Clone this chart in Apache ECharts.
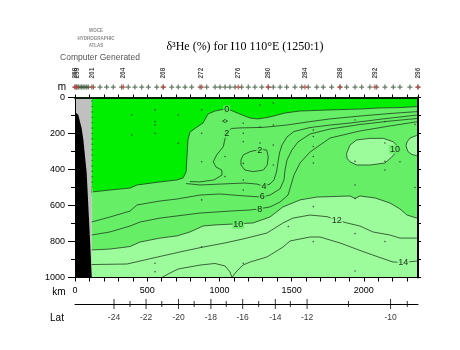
<!DOCTYPE html>
<html><head><meta charset="utf-8">
<script src="https://cdn.jsdelivr.net/npm/echarts/dist/echarts.min.js"></script>
<style>html,body{margin:0;padding:0;background:#fff}#c{width:460px;height:350px}</style>
</head><body><div id="c"></div>
<script>
// ---------- data ----------
const KM_MAX = 2375;
const DEPTH_MAX = 1000;
const dataStartKm = 114;
const xLabelKm = [0, 500, 1000, 1500, 2000];

const bathymetry = [[0,79],[23,97],[46,171],[58,236],[81,419],[104,792],[116,1000],[0,1000]];

const contour0 = [[114,525],[242,514],[381,503],[429,486],[588,469],[706,458],[748,447],[769,414],[775,331],[782,236],[796,192],[845,164],[886,142],[921,92],[969,75],[1018,67],[1073,69],[1142,92],[1212,114],[1267,119],[1350,108],[1454,86],[1558,75],[1766,69],[1973,64],[2112,58],[2250,56],[2375,50]];
const contour2 = [[2375,78],[2181,89],[1973,103],[1766,119],[1627,134],[1466,153],[1302,166],[1142,169],[1085,172],[1059,186],[1039,227],[1027,273],[981,319],[957,357],[976,386],[1016,403],[1018,431],[962,458],[865,469],[796,467]];
const contour2Loop = [[1165,319],[1212,301],[1281,288],[1327,292],[1338,329],[1331,375],[1304,403],[1235,412],[1177,403],[1149,375],[1149,347],[1165,319]];
const contour0Loop = [[1021,131],[1039,122],[1056,131],[1039,139],[1021,131]];
const contour4 = [[769,478],[865,486],[1004,481],[1177,475],[1260,481],[1302,492],[1350,481],[1378,458],[1395,414],[1406,358],[1416,308],[1433,264],[1468,219],[1516,189],[1627,167],[1766,153],[1904,142],[2133,119],[2375,97]];
const contour6 = [[114,692],[242,664],[381,631],[429,597],[588,575],[706,564],[865,542],[1004,536],[1177,547],[1295,553],[1350,542],[1419,508],[1447,458],[1454,403],[1468,347],[1502,292],[1544,247],[1627,203],[1766,175],[1973,150],[2181,131],[2375,116]];
const contour8 = [[114,764],[242,747],[381,714],[450,692],[588,670],[706,658],[865,642],[1073,631],[1212,625],[1274,619],[1350,608],[1419,581],[1475,542],[1496,486],[1516,431],[1558,364],[1627,303],[1766,225],[1973,186],[2181,158],[2375,134]];
const contour10 = [[114,847],[242,842],[381,828],[450,803],[588,781],[706,769],[796,747],[886,714],[969,708],[1094,703],[1232,697],[1350,664],[1440,608],[1558,569],[1675,553],[1904,547],[1939,561],[1973,547],[2077,558],[2181,586],[2250,619],[2299,653],[2375,672]];
const contour10Loop = [[1881,310],[1904,264],[1950,236],[2042,227],[2135,227],[2204,246],[2239,275],[2223,303],[2193,331],[2146,364],[2042,375],[1950,375],[1904,357],[1883,336],[1881,310]];
const contour10Edge = [[2375,208],[2366,211],[2320,225],[2299,247],[2292,269],[2306,301],[2334,317],[2375,325]];
const contour12 = [[114,928],[360,925],[540,892],[727,858],[886,831],[1039,808],[1163,786],[1329,753],[1440,697],[1509,670],[1627,653],[1745,662],[1814,681],[1883,697],[1973,714],[2063,747],[2181,764],[2250,781],[2375,781]];
const contour14 = [[602,1000],[644,981],[713,953],[865,931],[969,922],[1039,936],[1073,969],[1087,1000],[1115,969],[1163,931],[1212,914],[1329,886],[1440,831],[1489,797],[1627,775],[1696,775],[1835,808],[1904,829],[2022,864],[2202,914],[2271,916],[2375,908]];

const contourLabels = [
  {km:1050, depth:69, text:'0'}, {km:100, depth:525, text:'0'},
  {km:1050, depth:199, text:'2'}, {km:1279, depth:292, text:'2'},
  {km:1308, depth:492, text:'4'}, {km:1297, depth:551, text:'6'},
  {km:1280, depth:621, text:'8'}, {km:1131, depth:705, text:'10'},
  {km:2216, depth:288, text:'10'}, {km:1812, depth:681, text:'12'},
  {km:2273, depth:916, text:'14'}
];

const sampleDots = [
  [116,20],[116,50],[116,80],[116,110],[116,140],[116,170],[116,200],[116,230],[116,260],[116,290],[116,320],[116,350],[116,380],[116,410],[116,440],[116,470],[116,500],
  [393,97],[393,208],
  [554,69],[554,134],[554,153],[554,199],[554,921],[554,968],
  [715,97],[715,254],
  [877,69],[877,199],[877,357],[877,569],[877,829],
  [1039,86],[1039,197],[1039,328],[1039,439],
  [1165,143],[1165,199],[1165,246],[1165,366],[1165,458],[1165,514],[1165,921],
  [1281,42],[1281,164],[1281,253],
  [1373,31],[1373,153],[1373,264],[1373,375],
  [1477,717],
  [1650,181],[1650,217],[1650,272],[1650,328],[1650,364],[1650,606],[1650,800],
  [1939,125],[1939,355],[1939,486],[1939,561],[1939,756],[1939,964],
  [2146,133],[2146,253],[2146,355],[2146,403],[2146,800],
  [2250,292],[2250,357],
  [2354,150],[2354,500]
];

const stationKm = [0,12,23,35,46,57,69,81,92,127,173,219,265,323,369,415,462,508,566,611,670,715,762,808,866,912,970,1004,1039,1073,1108,1154,1200,1246,1293,1338,1373,1420,1466,1523,1570,1615,1674,1719,1777,1835,1881,1939,1985,2042,2089,2146,2204,2250,2319,2375];
const stationNumKm = [0,12,116,334,611,877,1131,1338,1592,1835,2077,2375];
const stationNums = ['258','259','261','264','268','272','276','280','284','288','292','296'];

const latTickKm = [270,492,717,941,1161,1387,1607,2185];
const latLabels = ['-24','-22','-20','-18','-16','-14','-12','-10'];
const latMinorKm = [381,601,825,1047,1272,1491,1894,2301];

// ---------- styles ----------
const BRIGHT = '#00ee00', MEDIUM = '#66ee66', LIGHT = '#9cfc9c', GRAY = '#c0c0c0';
const LINE = '#1f3f1f';
const FONT = 'Liberation Sans';
const PLUS = 'path://M1.5,0h1v1.5h1.5v1h-1.5v1.5h-1v-1.5h-1.5v-1h1.5z';

function area(points, color, z) {
  return {type:'custom', xAxisIndex:0, yAxisIndex:0, z:z, silent:true, clip:true, data:[[0,0]],
    renderItem: function(params, api){
      return {type:'polygon', shape:{points: points.map(function(p){return api.coord(p);})}, style:{fill:color}};
    }};
}
function cline(points) {
  return {type:'custom', xAxisIndex:0, yAxisIndex:0, z:3, silent:true, clip:true, data:[[0,0]],
    renderItem: function(params, api){
      return {type:'polyline', shape:{points: points.map(function(p){return api.coord(p);})}, style:{stroke:LINE, lineWidth:0.8, fill:null}};
    }};
}

const brightPoly = [[dataStartKm,0]].concat(contour0, [[KM_MAX,0]]);
const lightPoly = contour10.concat([[KM_MAX,DEPTH_MAX],[dataStartKm,DEPTH_MAX]]);
const dataRect = [[dataStartKm,0],[KM_MAX,0],[KM_MAX,DEPTH_MAX],[dataStartKm,DEPTH_MAX]];
const grayRect = [[0,0],[dataStartKm,0],[dataStartKm,DEPTH_MAX],[0,DEPTH_MAX]];

const chart = echarts.init(document.getElementById('c'), null, {renderer:'canvas'});
const gridL = 75, gridW = 343;
chart.setOption({
  animation:false,
  backgroundColor:'#fff',
  grid:[
    {left:gridL, top:97.5, width:gridW, height:180},
    {left:gridL, top:84, width:gridW, height:6},
    {left:gridL, top:60, width:gridW, height:18.5},
    {left:gridL, top:294, width:gridW, height:10}
  ],
  xAxis:[
    {gridIndex:0, type:'value', min:0, max:KM_MAX, interval:100, position:'bottom', z:10,
     axisLine:{show:true, onZero:false, lineStyle:{color:'#000', width:1}},
     axisTick:{show:true, length:4, lineStyle:{color:'#000'}},
     axisLabel:{show:true, margin:9, fontSize:9, fontFamily:FONT, color:'#000', showMaxLabel:false,
       formatter:function(v){ return xLabelKm.indexOf(v) >= 0 ? String(v) : ''; }},
     splitLine:{show:false}},
    {gridIndex:0, type:'value', min:0, max:KM_MAX, interval:100, position:'top', z:10,
     axisLine:{show:true, onZero:false, lineStyle:{color:'#0a200a', width:2}},
     axisTick:{show:true, length:3, lineStyle:{color:'#000'}},
     axisLabel:{show:false}, splitLine:{show:false}},
    {gridIndex:1, type:'value', min:0, max:KM_MAX, show:false},
    {gridIndex:2, type:'value', min:0, max:KM_MAX, show:false},
    {gridIndex:3, type:'value', min:0, max:KM_MAX, position:'bottom',
     axisLine:{show:true, onZero:false, lineStyle:{color:'#000', width:1}},
     axisTick:{show:false}, axisLabel:{show:false}, splitLine:{show:false}}
  ],
  yAxis:[
    {gridIndex:0, type:'value', min:0, max:DEPTH_MAX, inverse:true, interval:200, position:'left', z:10,
     axisLine:{show:true, onZero:false, lineStyle:{color:'#000', width:1}},
     axisTick:{show:true, length:7, lineStyle:{color:'#000'}},
     minorTick:{show:true, splitNumber:2, length:4, lineStyle:{color:'#000'}},
     axisLabel:{margin:10, fontSize:9, fontFamily:FONT, color:'#000', formatter:function(v){return String(v);}},
     splitLine:{show:false}, minorSplitLine:{show:false}},
    {gridIndex:0, type:'value', min:0, max:DEPTH_MAX, inverse:true, interval:100, position:'right', z:10,
     axisLine:{show:true, onZero:false, lineStyle:{color:'#000', width:2}},
     axisTick:{show:true, length:3, lineStyle:{color:'#000'}},
     axisLabel:{show:false}, splitLine:{show:false}},
    {gridIndex:1, type:'value', min:0, max:1, show:false},
    {gridIndex:2, type:'value', min:0, max:1, show:false},
    {gridIndex:3, type:'value', min:0, max:1, show:false}
  ],
  graphic:[
    {type:'text', x:245, y:47, style:{text:'δ³He (%) for I10 110°E (1250:1)', font:'12px "Liberation Serif"', fill:'#000', align:'center', verticalAlign:'middle'}},
    {type:'text', x:96, y:31, style:{text:'WOCE', font:'bold 4.5px "Liberation Sans"', fill:'#8a8a8a', align:'center', verticalAlign:'middle'}},
    {type:'text', x:96, y:38.5, style:{text:'HYDROGRAPHIC', font:'bold 4.5px "Liberation Sans"', fill:'#8a8a8a', align:'center', verticalAlign:'middle'}},
    {type:'text', x:96, y:46, style:{text:'ATLAS', font:'bold 4.5px "Liberation Sans"', fill:'#8a8a8a', align:'center', verticalAlign:'middle'}},
    {type:'text', x:100, y:58, style:{text:'Computer Generated', font:'8.5px "Liberation Sans"', fill:'#555', align:'center', verticalAlign:'middle'}},
    {type:'text', x:66, y:87, style:{text:'m', font:'10px "Liberation Sans"', fill:'#000', align:'right', verticalAlign:'middle'}},
    {type:'text', x:59, y:292.5, style:{text:'km', font:'10px "Liberation Sans"', fill:'#000', align:'center', verticalAlign:'middle'}},
    {type:'text', x:57, y:318, style:{text:'Lat', font:'10px "Liberation Sans"', fill:'#000', align:'center', verticalAlign:'middle'}}
  ],
  series:[
    area(dataRect, MEDIUM, 1),
    area(brightPoly, BRIGHT, 2),
    area(lightPoly, LIGHT, 2),
    area(contour10Loop, LIGHT, 2),
    area(contour10Edge, LIGHT, 2),
    cline(contour0), cline(contour0Loop), cline(contour2), cline(contour2Loop),
    cline(contour4), cline(contour6), cline(contour8),
    cline(contour10), cline(contour10Loop), cline(contour10Edge),
    cline(contour12), cline(contour14),
    {type:'scatter', xAxisIndex:0, yAxisIndex:0, z:4, silent:true, data:sampleDots, symbolSize:1.6, itemStyle:{color:'#2a2a2a'}},
    {type:'scatter', xAxisIndex:0, yAxisIndex:0, z:5, silent:true, symbolSize:0,
     data: contourLabels.map(function(l){ return {value:[l.km,l.depth], name:l.text,
        label:{backgroundColor: Number(l.text) >= 12 ? LIGHT : MEDIUM}}; }),
     label:{show:true, position:'inside', formatter:'{b}', fontSize:9, fontFamily:FONT, color:'#000', padding:[0,1]}},
    area(grayRect, GRAY, 6),
    area(bathymetry, '#000', 7),
    {type:'scatter', xAxisIndex:2, yAxisIndex:2, clip:false, silent:true, symbol:PLUS, symbolSize:5,
     data: stationKm.map(function(k){return [k,0.5];}), itemStyle:{color:'#3c5a3c'}},
    {type:'scatter', xAxisIndex:2, yAxisIndex:2, clip:false, silent:true, symbol:PLUS, symbolSize:5,
     data: stationNumKm.map(function(k){return [k,0.5];}), itemStyle:{color:'#c04040'}},
    {type:'scatter', xAxisIndex:3, yAxisIndex:3, clip:false, silent:true, symbolSize:0,
     data: stationNumKm.map(function(k,i){return {value:[k,0], name:stationNums[i]};}),
     label:{show:true, formatter:'{b}', position:'inside', rotate:90, align:'left', verticalAlign:'middle', fontSize:6.5, fontWeight:'bold', fontFamily:FONT, color:'#222'}},
    {type:'scatter', xAxisIndex:4, yAxisIndex:4, clip:false, silent:true, symbol:'rect', symbolSize:[1,10],
     data: latTickKm.map(function(k,i){return {value:[k,0], name:latLabels[i]};}), itemStyle:{color:'#000'},
     label:{show:true, position:'bottom', distance:4, formatter:'{b}', fontSize:8.5, fontFamily:FONT, color:'#000'}},
    {type:'scatter', xAxisIndex:4, yAxisIndex:4, clip:false, silent:true, symbol:'rect', symbolSize:[1,6],
     data: latMinorKm.map(function(k){return [k,0];}), itemStyle:{color:'#000'}}
  ]
});
</script>
</body></html>
